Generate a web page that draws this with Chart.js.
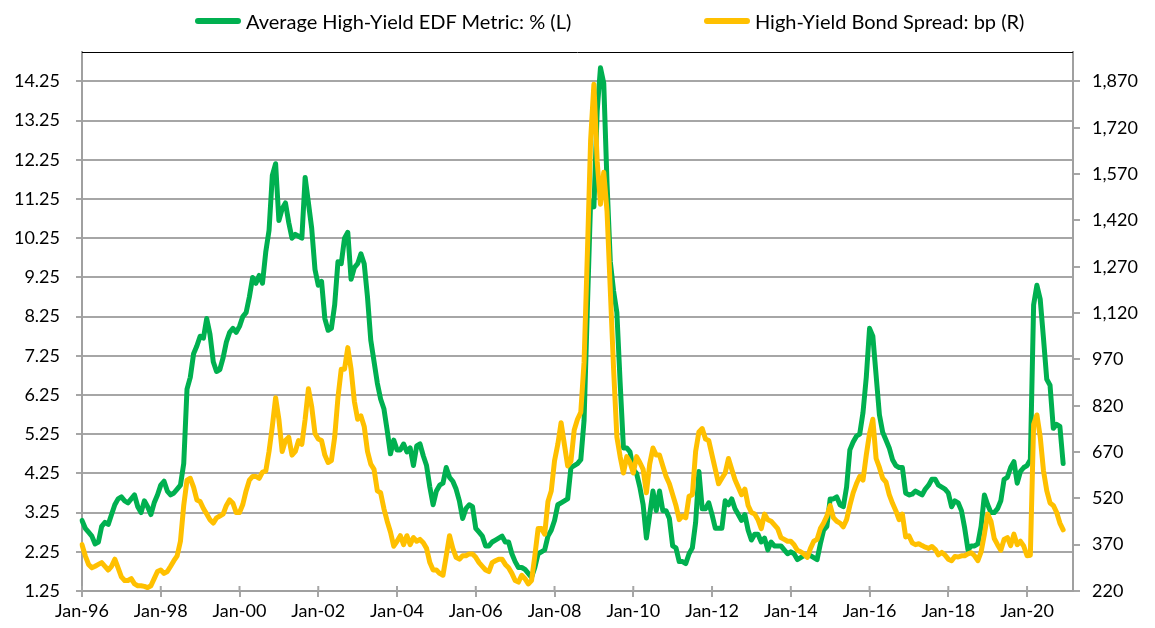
<!DOCTYPE html>
<html>
<head>
<meta charset="utf-8">
<script src="https://cdn.jsdelivr.net/npm/chart.js@4.4.1/dist/chart.umd.min.js"></script>
<style>
  html, body { margin: 0; padding: 0; background: #fff; }
  #wrap { position: relative; width: 1155px; height: 628px; }
  #c { position: absolute; left: 0; top: 0; width: 1155px; height: 628px; }
  #legend { position: absolute; top: 7px; left: 0; width: 1155px; height: 28px;
            font-family: Lato, "Open Sans", sans-serif; font-size: 20px; color: #000; }
  .item { position: absolute; top: 0; height: 28px; display: flex; align-items: center; white-space: nowrap; }
  .swatch { display: inline-block; width: 46px; height: 6px; border-radius: 3px; margin-right: 5px; }
</style>
</head>
<body>
<div id="wrap">
  <canvas id="c" width="1155" height="628"></canvas>
  <div id="legend"></div>
</div>
<script>
// ---------------- DATA ----------------
const monthNames = ['Jan','Feb','Mar','Apr','May','Jun','Jul','Aug','Sep','Oct','Nov','Dec'];
const startYear = 1996;
const axisMonths = 303;           // Jan-96 .. Mar-21 (axis extent)
const tickEveryMonths = 24;       // Jan of even years

const seriesNames = ['Average High-Yield EDF Metric: % (L)', 'High-Yield Bond Spread: bp (R)'];

// Average High-Yield EDF Metric, %, monthly from Jan-96
const edfValues = [
  3.05, 2.85, 2.75, 2.65, 2.45, 2.5, 2.9, 3.0, 2.95, 3.2,
  3.45, 3.6, 3.65, 3.55, 3.5, 3.6, 3.7, 3.4, 3.25, 3.55,
  3.4, 3.2, 3.5, 3.7, 3.95, 4.05, 3.8, 3.7, 3.75, 3.85,
  3.95, 4.5, 6.4, 6.7, 7.3, 7.5, 7.75, 7.7, 8.2, 7.8,
  7.1, 6.85, 6.9, 7.2, 7.6, 7.85, 7.95, 7.85, 8.0, 8.25,
  8.35, 8.75, 9.25, 9.1, 9.3, 9.1, 9.9, 10.45, 11.85, 12.15,
  10.7, 11.0, 11.15, 10.65, 10.25, 10.35, 10.3, 10.25, 11.8, 11.15,
  10.5, 9.45, 9.05, 9.15, 8.2, 7.9, 7.95, 8.55, 9.65, 9.6,
  10.25, 10.4, 9.2, 9.5, 9.6, 9.85, 9.6, 8.75, 7.65, 7.1,
  6.55, 6.15, 5.9, 5.35, 4.75, 5.1, 4.85, 4.85, 5.0, 4.8,
  4.9, 4.45, 4.95, 5.0, 4.7, 4.45, 3.9, 3.45, 3.8, 3.95,
  4.0, 4.4, 4.15, 4.05, 3.85, 3.55, 3.1, 3.35, 3.45, 3.4,
  2.85, 2.75, 2.65, 2.4, 2.4, 2.5, 2.55, 2.6, 2.65, 2.5,
  2.5, 2.2, 2.0, 1.85, 1.85, 1.8, 1.7, 1.6, 1.85, 2.2,
  2.25, 2.3, 2.65, 2.8, 3.05, 3.45, 3.5, 3.55, 3.6, 4.4,
  4.45, 4.5, 4.6, 5.6, 8.45, 11.2, 11.05, 13.5, 14.6, 14.2,
  11.65, 9.65, 8.9, 8.35, 6.55, 4.9, 4.9, 4.8, 4.35, 4.25,
  3.9, 3.45, 2.6, 3.2, 3.8, 3.3, 3.8, 3.3, 3.3, 3.1,
  2.4, 2.35, 2.0, 2.0, 1.95, 2.2, 2.35, 3.0, 4.3, 3.35,
  3.35, 3.5, 3.2, 2.85, 2.85, 2.85, 3.55, 3.45, 3.6, 3.35,
  3.2, 3.05, 3.2, 2.8, 2.55, 2.7, 2.7, 2.5, 2.6, 2.3,
  2.5, 2.4, 2.4, 2.4, 2.3, 2.2, 2.25, 2.2, 2.05, 2.1,
  2.15, 2.15, 2.15, 2.1, 2.05, 2.45, 2.8, 2.9, 3.6, 3.6,
  3.65, 3.45, 3.4, 3.9, 4.85, 5.05, 5.2, 5.25, 5.8, 6.7,
  7.95, 7.75, 6.75, 5.75, 5.3, 5.1, 4.9, 4.6, 4.45, 4.4,
  4.4, 3.75, 3.7, 3.72, 3.8, 3.75, 3.7, 3.85, 3.95, 4.1,
  4.1, 3.95, 3.9, 3.85, 3.75, 3.4, 3.55, 3.5, 3.3, 2.85,
  2.3, 2.4, 2.4, 2.45, 2.9, 3.7, 3.45, 3.25, 3.25, 3.35,
  3.55, 4.1, 4.15, 4.4, 4.55, 4.0, 4.3, 4.4, 4.45, 4.6,
  8.55, 9.05, 8.7, 7.7, 6.65, 6.5, 5.4, 5.5, 5.45, 4.5
];

// High-Yield Bond Spread, bp, monthly from Jan-96
const spreadValues = [
  370, 334, 306, 295, 300, 306, 312, 300, 288, 300,
  323, 295, 266, 254, 254, 260, 243, 237, 237, 235,
  231, 237, 260, 283, 288, 277, 283, 300, 318, 334,
  381, 497, 579, 585, 556, 515, 510, 487, 469, 451,
  440, 457, 463, 469, 497, 515, 504, 474, 474, 500,
  544, 579, 591, 591, 585, 605, 608, 672, 753, 846,
  776, 672, 707, 718, 660, 672, 707, 695, 776, 875,
  817, 730, 712, 707, 660, 636, 642, 718, 846, 938,
  938, 1008, 938, 834, 776, 787, 753, 672, 631, 614,
  544, 538, 487, 446, 411, 365, 381, 399, 370, 399,
  370, 393, 381, 387, 376, 358, 312, 288, 288, 277,
  271, 334, 399, 358, 329, 323, 334, 334, 340, 340,
  329, 312, 300, 288, 283, 312, 318, 323, 323, 306,
  295, 277, 254, 249, 271, 260, 243, 254, 334, 422,
  422, 404, 510, 544, 642, 695, 765, 695, 625, 640,
  741, 776, 799, 961, 1309, 1681, 1861, 1611, 1472, 1576,
  1449, 1193, 938, 718, 655, 602, 655, 636, 602, 655,
  636, 614, 538, 631, 683, 660, 660, 625, 591, 567,
  532, 497, 451, 463, 457, 527, 532, 672, 735, 746,
  712, 707, 660, 614, 567, 585, 602, 649, 614, 580,
  556, 532, 550, 497, 474, 469, 451, 422, 469, 451,
  446, 434, 422, 393, 387, 381, 381, 370, 352, 347,
  340, 329, 358, 381, 387, 422, 440, 463, 497, 457,
  446, 440, 428, 451, 497, 538, 567, 591, 579, 660,
  730, 776, 649, 620, 585, 573, 532, 504, 480, 451,
  469, 395, 399, 376, 370, 373, 367, 362, 358, 364,
  355, 337, 345, 336, 323, 318, 332, 330, 334, 334,
  340, 344, 334, 318, 347, 404, 469, 446, 390, 370,
  352, 387, 393, 367, 404, 370, 381, 365, 334, 336,
  760, 790, 720, 610, 545, 505, 497, 475, 440, 418
];

const leftTicks  = [1.25, 2.25, 3.25, 4.25, 5.25, 6.25, 7.25, 8.25, 9.25, 10.25, 11.25, 12.25, 13.25, 14.25];
const leftMax    = 15.0;
const rightTicks = [220, 370, 520, 670, 820, 970, 1120, 1270, 1420, 1570, 1720, 1870];

// ---------------- BUILD ----------------
const labels = [];
for (let i = 0; i < axisMonths; i++) {
  const yr = (startYear + Math.floor(i / 12)) % 100;
  labels.push(monthNames[i % 12] + '-' + String(yr).padStart(2, '0'));
}
const rightMax = rightTicks[0] + (leftMax - leftTicks[0]) *
  (rightTicks[rightTicks.length - 1] - rightTicks[0]) / (leftTicks[leftTicks.length - 1] - leftTicks[0]);

const GREEN = '#00b050', GOLD = '#ffc000';
const gridColor = '#a6a6a6', axisColor = '#a0a0a0';
const tickFont = { family: 'Lato, "Open Sans", sans-serif', size: 18 };

const framePlugin = {
  id: 'frame',
  beforeDatasetsDraw(chart) {
    const { ctx, chartArea: a, scales: { x } } = chart;
    ctx.save();
    ctx.strokeStyle = '#000';
    ctx.lineWidth = 1;
    ctx.beginPath();
    ctx.moveTo(a.left, Math.round(a.top) + 0.5);
    ctx.lineTo(a.right, Math.round(a.top) + 0.5);
    ctx.stroke();
    ctx.strokeStyle = gridColor;
    ctx.lineWidth = 2;
    x.ticks.forEach((t, i) => {
      const px = x.getPixelForTick(i);
      ctx.beginPath();
      ctx.moveTo(px, a.bottom - 5);
      ctx.lineTo(px, a.bottom);
      ctx.stroke();
    });
    ctx.restore();
  }
};

new Chart(document.getElementById('c'), {
  type: 'line',
  data: {
    labels: labels,
    datasets: [
      { label: seriesNames[0], data: edfValues, yAxisID: 'y', borderColor: GREEN, backgroundColor: GREEN, order: 2 },
      { label: seriesNames[1], data: spreadValues, yAxisID: 'y2', borderColor: GOLD, backgroundColor: GOLD, order: 1 }
    ]
  },
  options: {
    responsive: false,
    animation: false,
    layout: { padding: { top: 52, left: 0, right: 0, bottom: 0 } },
    elements: {
      line: { borderWidth: 5, tension: 0, borderJoinStyle: 'round', borderCapStyle: 'round' },
      point: { radius: 0, hoverRadius: 0 }
    },
    plugins: { legend: { display: false }, tooltip: { enabled: false } },
    scales: {
      x: {
        type: 'category',
        offset: false,
        afterBuildTicks(s) { s.ticks = s.ticks.filter(t => t.value % tickEveryMonths === 0); },
        afterFit(s) { s.height = 37; },
        grid: { drawOnChartArea: false, drawTicks: true, tickLength: 6, color: gridColor, lineWidth: 2 },
        border: { display: true, color: axisColor, width: 2 },
        ticks: { autoSkip: false, maxRotation: 0, minRotation: 0, padding: 3, font: tickFont, color: '#000' }
      },
      y: {
        position: 'left',
        min: leftTicks[0],
        max: leftMax,
        afterBuildTicks(s) { s.ticks = leftTicks.map(v => ({ value: v })); },
        afterFit(s) { s.width = 82; },
        grid: { color: gridColor, lineWidth: 2, tickLength: 6 },
        border: { display: true, color: axisColor, width: 2 },
        ticks: { callback: v => Number(v).toFixed(2), padding: 16, font: tickFont, color: '#000' }
      },
      y2: {
        position: 'right',
        min: rightTicks[0],
        max: rightMax,
        afterBuildTicks(s) { s.ticks = rightTicks.map(v => ({ value: v })); },
        afterFit(s) { s.width = 82; },
        grid: { drawOnChartArea: false, color: gridColor, lineWidth: 2, tickLength: 7 },
        border: { display: true, color: axisColor, width: 2 },
        ticks: { callback: v => Number(v).toLocaleString('en-US'), padding: 12, font: tickFont, color: '#000' }
      }
    }
  },
  plugins: [framePlugin]
});

// HTML legend (real text)
const legendPos = [195, 704];
const legendColors = [GREEN, GOLD];
const lg = document.getElementById('legend');
seriesNames.forEach((name, i) => {
  const it = document.createElement('div');
  it.className = 'item';
  it.style.left = legendPos[i] + 'px';
  const sw = document.createElement('span');
  sw.className = 'swatch';
  sw.style.background = legendColors[i];
  const tx = document.createElement('span');
  tx.textContent = name;
  it.appendChild(sw);
  it.appendChild(tx);
  lg.appendChild(it);
});
</script>
</body>
</html>
